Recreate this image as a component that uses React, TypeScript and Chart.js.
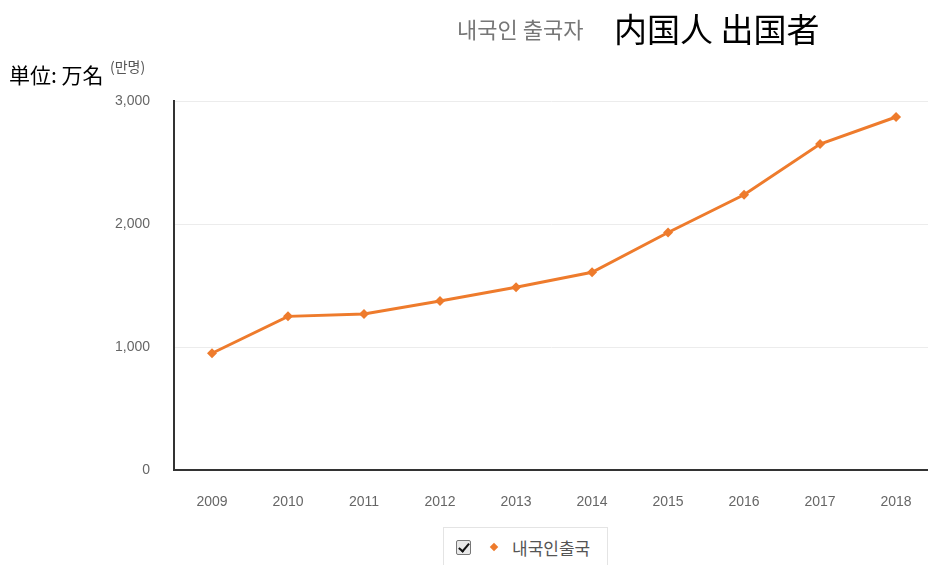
import React, { useEffect, useRef } from "react";
import { Chart, registerables } from "chart.js";

Chart.register(...registerables);

const years = [2009, 2010, 2011, 2012, 2013, 2014, 2015, 2016, 2017, 2018];
const departures = [949, 1249, 1269, 1374, 1485, 1608, 1931, 2238, 2650, 2870];
const yTicks = [0, 1000, 2000, 3000];
const seriesName = "내국인출국";
const titleKo = "내국인 출국자";
const titleZh = "内国人 出国者";
const unitLabel = "単位: 万名";
const unitKo = "(만명)";

const ORANGE = "#EE7B2C";
const SANS = "'Liberation Sans', Arial, sans-serif";

export default function App() {
  const canvasRef = useRef<HTMLCanvasElement | null>(null);

  useEffect(() => {
    if (!canvasRef.current) return;
    const chart = new Chart(canvasRef.current, {
      type: "line",
      data: {
        datasets: [
          {
            label: seriesName,
            data: years.map((y, i) => ({ x: y, y: departures[i] })),
            borderColor: ORANGE,
            backgroundColor: ORANGE,
            borderWidth: 3,
            pointStyle: "rectRot",
            pointRadius: 5,
            pointBorderWidth: 0,
            tension: 0,
          },
        ],
      },
      options: {
        animation: false,
        responsive: false,
        maintainAspectRatio: false,
        layout: { autoPadding: false, padding: { top: 101, left: 0, right: 0, bottom: 0 } },
        plugins: { legend: { display: false }, tooltip: { enabled: false }, title: { display: false } },
        scales: {
          x: {
            type: "linear",
            min: 2008.5,
            max: 2018.42,
            afterBuildTicks: (axis: any) => {
              axis.ticks = years.map((v) => ({ value: v }));
            },
            afterFit: (scale: any) => {
              scale.height = 95;
              scale.paddingLeft = 0;
              scale.paddingRight = 0;
            },
            grid: { display: false, drawTicks: false },
            border: { display: true, color: "#333", width: 2 },
            ticks: {
              padding: 24,
              color: "#666",
              font: { family: SANS, size: 14 },
              callback: (v: any) => String(v),
              maxRotation: 0,
              autoSkip: false,
            },
          },
          y: {
            type: "linear",
            min: 0,
            max: 3000,
            afterBuildTicks: (axis: any) => {
              axis.ticks = yTicks.map((v) => ({ value: v }));
            },
            afterFit: (scale: any) => {
              scale.width = 174;
              scale.paddingTop = 0;
              scale.paddingBottom = 0;
            },
            grid: { color: "#ececec", lineWidth: 1, drawTicks: false },
            border: { display: true, color: "#333", width: 2 },
            ticks: {
              padding: 24,
              color: "#666",
              font: { family: SANS, size: 14 },
              callback: (v: any) => Number(v).toLocaleString("en-US"),
            },
          },
        },
      },
    });
    return () => chart.destroy();
  }, []);

  return (
    <div style={{ position: "absolute", left: 0, top: 0, width: 928, height: 565, background: "#fff", overflow: "hidden" }}>
      <canvas ref={canvasRef} width={928} height={565} style={{ position: "absolute", left: 0, top: 0 }} />
      <div
        style={{
          position: "absolute",
          left: 457,
          top: 14,
          fontFamily: "'Noto Sans CJK KR', sans-serif",
          fontSize: 22,
          color: "#777",
          whiteSpace: "nowrap",
          lineHeight: "28px",
        }}
      >
        {titleKo}
      </div>
      <div
        style={{
          position: "absolute",
          left: 614,
          top: 7,
          fontFamily: "'Noto Sans CJK SC', sans-serif",
          fontSize: 33,
          color: "#000",
          whiteSpace: "nowrap",
          lineHeight: "42px",
        }}
      >
        {titleZh}
      </div>
      <div
        style={{
          position: "absolute",
          left: 9,
          top: 59,
          fontFamily: "'Noto Sans CJK JP', sans-serif",
          fontSize: 21,
          color: "#000",
          whiteSpace: "nowrap",
          lineHeight: "30px",
        }}
      >
        {unitLabel}
      </div>
      <div
        style={{
          position: "absolute",
          left: 110,
          top: 56,
          fontFamily: "'Noto Sans CJK KR', sans-serif",
          fontSize: 14,
          color: "#555",
          whiteSpace: "nowrap",
          lineHeight: "20px",
        }}
      >
        {unitKo}
      </div>
      <div
        style={{
          position: "absolute",
          left: 443,
          top: 527,
          width: 165,
          height: 40,
          border: "1px solid #e4e4e4",
          boxSizing: "border-box",
          display: "flex",
          alignItems: "center",
          paddingLeft: 12,
          background: "#fff",
        }}
      >
        <span
          style={{
            display: "inline-block",
            width: 15,
            height: 15,
            border: "1px solid #777",
            borderRadius: 2,
            background: "#e8e8e8",
            position: "relative",
            boxSizing: "border-box",
          }}
        >
          <span
            style={{
              position: "absolute",
              left: 4,
              top: 0,
              width: 4,
              height: 9,
              borderRight: "2px solid #111",
              borderBottom: "2px solid #111",
              transform: "rotate(40deg)",
            }}
          />
        </span>
        <span
          style={{
            display: "inline-block",
            width: 6,
            height: 6,
            background: ORANGE,
            transform: "rotate(45deg)",
            marginLeft: 20,
          }}
        />
        <span
          style={{
            marginLeft: 15,
            fontFamily: "'Noto Sans CJK KR', sans-serif",
            fontSize: 17,
            color: "#555",
            whiteSpace: "nowrap",
          }}
        >
          {seriesName}
        </span>
      </div>
    </div>
  );
}
